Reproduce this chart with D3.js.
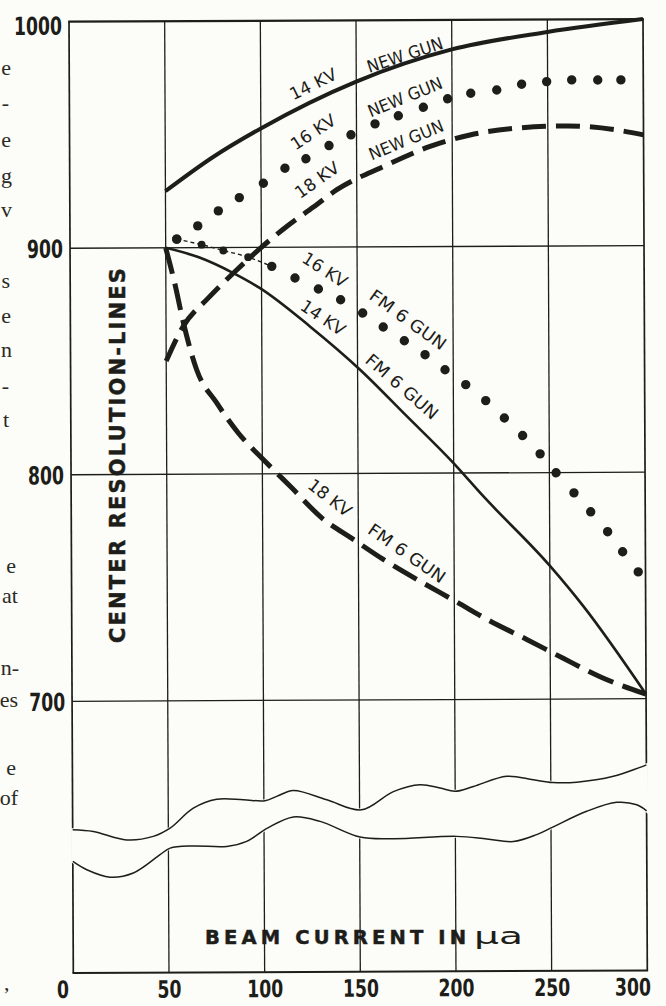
<!DOCTYPE html>
<html>
<head>
<meta charset="utf-8">
<script src="https://cdn.jsdelivr.net/npm/d3@7"></script>
<style>
  html, body { margin: 0; padding: 0; background: #fcfcf8; }
  svg { display: block; }
  .tick text { font-family: "DejaVu Sans", sans-serif; font-weight: bold; font-size: 25px; fill: #1d1d19; }
  .x-axis .tick text { font-size: 24px; }
  .curve-label { font-family: "DejaVu Sans", sans-serif; font-size: 17px; fill: #1d1d19; }
  .axis-title { font-family: "DejaVu Sans", sans-serif; font-weight: bold; fill: #1d1d19; stroke: #1d1d19; stroke-width: 0.5px; }
  .margin-note { font-family: "Liberation Serif", "DejaVu Serif", serif; font-size: 22px; fill: #2a2a26; }
</style>
</head>
<body>
<div id="chart"></div>
<script>
// axis ticks
const xTicks = [0, 50, 100, 150, 200, 250, 300];
const yTicks = [700, 800, 900, 1000];

// [beam current (uA), center resolution (lines)]
const kv14New = [[50, 925], [75, 940], [100, 952.5], [150, 973], [200, 987], [250, 994.5], [300, 1000]];
const kv16New = [[55.8, 903.8], [66.8, 909.6], [77.6, 916.2], [88.6, 922], [101.2, 928.3], [112.5, 934.9],
  [123.5, 939], [135.6, 944.8], [147.1, 949.5], [159.7, 954.3], [171.9, 957.8], [185, 961.5],
  [197.7, 965.2], [209.8, 967.6], [223.4, 969], [236.4, 971.5], [249.5, 972.6], [262.6, 973.3],
  [276.2, 973.2], [288.3, 973.2]];
const kv18New = [[50, 850], [59, 865.3], [72.2, 877.8], [86.2, 889.4], [100, 900], [113.3, 909.2],
  [127.3, 917.7], [139.6, 925.3], [163.9, 935.4], [188.4, 944.2], [209.3, 949.2], [233.8, 952.1],
  [259.9, 953], [286, 951.1], [300, 948.9]];
const kv14Fm6 = [[50, 900], [68, 895.5], [85.3, 888.7], [99.2, 882], [125.2, 865], [151.3, 845.8],
  [175.6, 825.2], [199.8, 804.5], [215.4, 789.7], [250.2, 758.7], [267.4, 741], [300, 702]];
const kv16Fm6 = [[55.8, 903.8], [68.8, 901.3], [80.1, 898.7], [93.1, 895.7], [105.4, 891.6], [117.5, 886.4],
  [129.7, 881.5], [141.3, 876.7], [152.8, 870.8], [163.5, 864.6], [174.5, 858.5], [185.3, 852.3],
  [195.7, 845.6], [206.5, 839], [216.9, 831.9], [226.6, 824.2], [236.1, 816.4], [245.2, 808.3],
  [253.5, 799.9], [262.8, 791], [271.5, 782.6], [280.3, 773.8], [288.1, 764.9], [296.2, 756]];
const kv18Fm6 = [[50, 900], [54.8, 883.7], [59.1, 866.8], [65.9, 846.1], [76.3, 831.4], [87.5, 818.1],
  [101.4, 805.6], [115.3, 793.8], [130.9, 780.5], [147.4, 770.9], [163, 762], [182.1, 752.3],
  [200.4, 743.5], [218.6, 734.6], [237.8, 726.4], [256.8, 718], [276, 709.8], [300, 702]];

// [text, x, y, angle]
const curveLabels = [
  ['14 KV', 127.4, 972, -26], ['NEW GUN', 175.5, 984.7, -18],
  ['16 KV', 127.3, 950.9, -33], ['NEW GUN', 175.4, 966.1, -22],
  ['18 KV', 129.2, 929.7, -35], ['NEW GUN', 175.9, 947.2, -22],
  ['16 KV', 133.2, 890, 33], ['FM 6 GUN', 176.5, 867.8, 36],
  ['14 KV', 132.1, 868.9, 34], ['FM 6 GUN', 173.2, 838.3, 41],
  ['18 KV', 135.3, 789.4, 38], ['FM 6 GUN', 175.4, 764.7, 35]
];

// axis break (wavy cut), in axis units below 700
const breakUpper = [[0, 643.3], [10.8, 642.5], [28.2, 638.7], [42.1, 640.2], [50.9, 643.8], [63.1, 652.6],
  [75.4, 656.5], [89.3, 656.2], [100.6, 655.7], [106.7, 657.6], [115.4, 660.2], [132.9, 656],
  [151, 651.5], [167.7, 659.5], [181.7, 662.5], [192.1, 661], [199.9, 659.5], [209.6, 661.6],
  [227, 666], [240.9, 664.4], [251, 663.2], [263.6, 663.3], [282.7, 665.8], [300, 670.8]];
const breakLower = [[0, 629.3], [7.3, 625.6], [19.4, 622.3], [31.6, 624.1], [45.6, 632.1], [50.9, 635],
  [63, 635.9], [80.5, 635.6], [90.9, 637.8], [101.8, 643.6], [115.4, 648.5], [129.3, 646.5],
  [150.2, 639.5], [167.6, 638.7], [200.7, 639.6], [216.4, 638.4], [230.3, 637.2], [242.5, 640.2],
  [250.9, 643.5], [268.7, 650.4], [284.4, 654.3], [294.9, 653.2], [300, 650.5]];

// cut-off words of the neighbouring page column
const marginNotes = [['e', 75, 11], ['-', 110, 9], ['e', 147, 11], ['g', 183, 12], ['v', 217, 12],
  ['s', 288, 10], ['e', 323, 11], ['n', 357, 12], ['-', 393, 9], ['t', 427, 9],
  ['e', 573, 16], ['at', 603, 18], ['n-', 675, 19], ['es', 707, 18], ['e', 775, 16], ['of', 805, 18]];

const ink = '#1d1d19';
const paper = '#fcfcf8';
const width = 666, height = 1006;
const plot = { left: 69, right: 643, top: 21.7, y700: 701.3, floor: 973 };
const digitWidth = 12;
const labelLength = { '14 KV': 50, '16 KV': 50, '18 KV': 50, 'NEW GUN': 79, 'FM 6 GUN': 90 };

const svg = d3.select('#chart').append('svg')
  .attr('width', width)
  .attr('height', height);

svg.append('rect').attr('width', width).attr('height', height).attr('fill', paper);

const x = d3.scaleLinear().domain([0, 300]).range([plot.left, plot.right]);
const y = d3.scaleLinear().domain([700, 1000]).range([plot.y700, plot.top]);

// the scan is very slightly rotated
const g = svg.append('g')
  .attr('transform', `rotate(-0.26, ${plot.left}, ${plot.top})`);

//grid
g.selectAll('.hgrid')
  .data([700, 800, 900])
  .enter().append('line')
  .attr('x1', x(0)).attr('x2', x(300))
  .attr('y1', d => y(d)).attr('y2', d => y(d))
  .attr('stroke', ink).attr('stroke-width', 1.3);

g.selectAll('.vgrid')
  .data(xTicks)
  .enter().append('line')
  .attr('x1', d => x(d)).attr('x2', d => x(d))
  .attr('y1', y(1000)).attr('y2', plot.floor)
  .attr('stroke', ink)
  .attr('stroke-width', d => (d === 0 || d === 300) ? 1.7 : 1.3);

g.append('line')
  .attr('x1', x(0) - 0.8).attr('x2', x(300) + 0.8)
  .attr('y1', y(1000)).attr('y2', y(1000))
  .attr('stroke', ink).attr('stroke-width', 2.2);
g.append('line')
  .attr('x1', x(0) - 0.8).attr('x2', x(300) + 0.8)
  .attr('y1', plot.floor).attr('y2', plot.floor)
  .attr('stroke', ink).attr('stroke-width', 2);

//axis break
const waveLine = d3.line()
  .x(d => x(d[0]))
  .y(d => y(d[1]))
  .curve(d3.curveCatmullRom.alpha(0.5));

const gapPath = waveLine(breakUpper) + 'L' + waveLine(breakLower.slice().reverse()).slice(1) + 'Z';
g.append('path')
  .attr('d', gapPath)
  .attr('fill', paper)
  .attr('stroke', paper)
  .attr('stroke-width', 3);

[breakUpper, breakLower].forEach(wave => {
  g.append('path')
    .attr('d', waveLine(wave))
    .attr('fill', 'none')
    .attr('stroke', ink)
    .attr('stroke-width', 1.5);
});

//curves
const line = d3.line()
  .x(d => x(d[0]))
  .y(d => y(d[1]))
  .curve(d3.curveMonotoneX);

const drawLine = (data, strokeWidth, dash) => {
  g.append('path')
    .attr('d', line(data))
    .attr('fill', 'none')
    .attr('stroke', ink)
    .attr('stroke-width', strokeWidth)
    .attr('stroke-dasharray', dash)
    .attr('stroke-linejoin', 'round');
};

drawLine(kv14New, 4, null);
drawLine(kv18New, 5, '24 10');
drawLine(kv14Fm6, 2.6, null);
drawLine(kv18Fm6, 5, '27 10');
// thin dashed link between the first dots of the FM 6 curve
drawLine(kv16Fm6.slice(0, 5), 1.4, '4 3');

const drawDots = (data, radius) => {
  g.append('g')
    .selectAll('circle')
    .data(data)
    .enter().append('circle')
    .attr('cx', d => x(d[0]))
    .attr('cy', d => y(d[1]))
    .attr('r', (d, i) => radius(i))
    .attr('fill', ink);
};

drawDots(kv16New, () => 4.7);
drawDots(kv16Fm6, i => (i > 0 && i < 4) ? 3.9 : 4.7);

//curve labels
g.selectAll('.curve-label')
  .data(curveLabels)
  .enter().append('text')
  .attr('class', 'curve-label')
  .attr('transform', d => `translate(${x(d[1])},${y(d[2])}) rotate(${d[3]})`)
  .attr('text-anchor', 'middle')
  .attr('dy', '0.36em')
  .attr('textLength', d => labelLength[d[0]])
  .attr('lengthAdjust', 'spacingAndGlyphs')
  .text(d => d[0]);

//axes
const condense = sel => sel
  .attr('textLength', d => String(d).length * digitWidth)
  .attr('lengthAdjust', 'spacingAndGlyphs');

const xAxis = d3.axisBottom(x)
  .tickValues(xTicks)
  .tickFormat(d3.format('d'))
  .tickSize(0)
  .tickPadding(8);
const xAxisG = g.append('g')
  .attr('class', 'x-axis')
  .attr('transform', `translate(0,${plot.floor})`)
  .call(xAxis);
xAxisG.select('.domain').remove();
xAxisG.selectAll('.tick text')
  .attr('dx', d => d === 0 ? -11 : (d === 300 ? -15 : 0))
  .call(condense);

const yAxis = d3.axisLeft(y)
  .tickValues(yTicks)
  .tickFormat(d3.format('d'))
  .tickSize(0)
  .tickPadding(7);
const yAxisG = g.append('g')
  .attr('transform', `translate(${plot.left},0)`)
  .call(yAxis);
yAxisG.select('.domain').remove();
yAxisG.selectAll('.tick text')
  .attr('dy', d => d === 1000 ? '0.5em' : '0.36em')
  .call(condense);

//titles
svg.append('text')
  .attr('class', 'axis-title')
  .attr('x', 205)
  .attr('y', 943.5)
  .attr('font-size', 19.5)
  .attr('textLength', 261)
  .attr('lengthAdjust', 'spacing')
  .text('BEAM CURRENT IN');
svg.append('text')
  .attr('x', 474)
  .attr('y', 943.5)
  .attr('font-family', '"DejaVu Sans", sans-serif')
  .attr('font-size', 23)
  .attr('textLength', 49)
  .attr('lengthAdjust', 'spacingAndGlyphs')
  .attr('fill', ink)
  .text('μa');

svg.append('text')
  .attr('class', 'axis-title')
  .attr('transform', 'translate(125,455.5) rotate(-90)')
  .attr('text-anchor', 'middle')
  .attr('font-size', 21)
  .attr('textLength', 375)
  .attr('lengthAdjust', 'spacing')
  .text('CENTER RESOLUTION-LINES');

//margin fragments
svg.selectAll('.margin-note')
  .data(marginNotes)
  .enter().append('text')
  .attr('class', 'margin-note')
  .attr('x', d => d[2])
  .attr('y', d => d[1])
  .attr('text-anchor', 'end')
  .text(d => d[0]);
svg.append('text')
  .attr('class', 'margin-note')
  .attr('x', 4)
  .attr('y', 990)
  .attr('font-size', 12)
  .text(',');
</script>
</body>
</html>
